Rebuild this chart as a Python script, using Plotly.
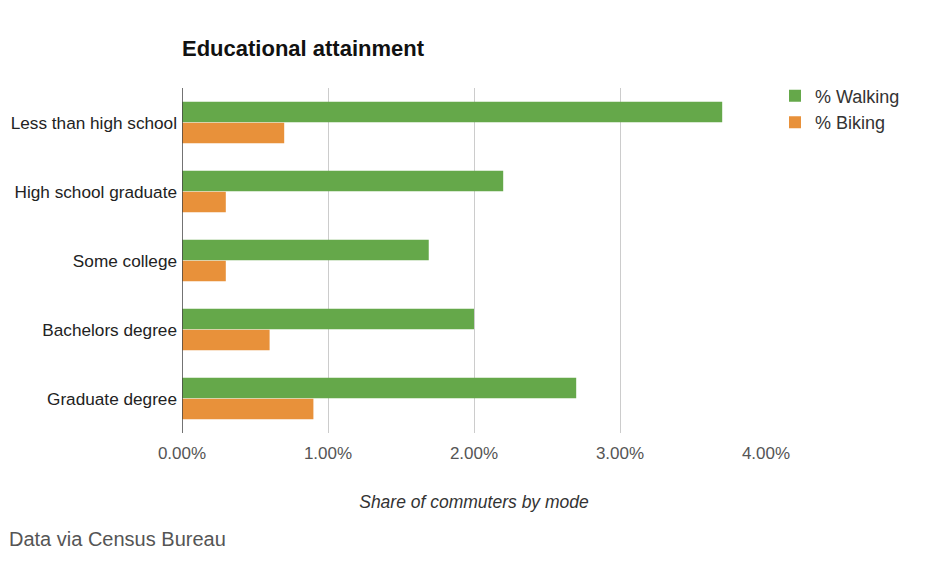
import plotly.graph_objects as go

categories = ["Less than high school", "High school graduate", "Some college",
              "Bachelors degree", "Graduate degree"]
walking = [3.70, 2.20, 1.69, 2.00, 2.70]
biking = [0.70, 0.30, 0.30, 0.60, 0.90]
tick_vals = [0, 1, 2, 3, 4]
tick_text = ["0.00%", "1.00%", "2.00%", "3.00%", "4.00%"]

GREEN = "#65a84a"
ORANGE = "#e8913a"

L, T, PW, PH = 174, 80, 584, 345
W, H = 932, 581

fig = go.Figure()
fig.add_trace(go.Bar(y=categories, x=walking, orientation="h", name="% Walking",
                     marker=dict(color=GREEN, line=dict(width=0))))
fig.add_trace(go.Bar(y=categories, x=biking, orientation="h", name="% Biking",
                     marker=dict(color=ORANGE, line=dict(width=0))))

fig.update_layout(
    width=W, height=H,
    paper_bgcolor="white", plot_bgcolor="white",
    margin=dict(l=L, r=W - L - PW, t=T, b=H - T - PH, autoexpand=False),
    barmode="group", bargap=0.39, bargroupgap=0.03,
    font=dict(family="Liberation Sans, Arial, sans-serif", color="#222"),
    title=dict(text="<b>Educational attainment</b>", x=174 / W, xanchor="left",
               y=1 - 40 / H, yanchor="middle",
               font=dict(size=22, color="#111")),
    legend=dict(x=1 + 9 / PW, y=1.03, xanchor="left", yanchor="top",
                font=dict(size=18, color="#333"), itemwidth=30,
                tracegroupgap=7, bgcolor="rgba(0,0,0,0)"),
    showlegend=True,
)
fig.update_xaxes(range=[0, 4.0], tickvals=tick_vals, ticktext=tick_text,
                 showgrid=True, gridcolor="#cccccc", gridwidth=1,
                 zeroline=False, showline=False, ticks="", automargin=False,
                 tickfont=dict(size=17, color="#555"), ticklabelstandoff=8,
                 title=dict(text="<i>Share of commuters by mode</i>",
                            font=dict(size=17.5, color="#333"), standoff=33))
fig.update_yaxes(autorange="reversed", showline=False, ticks="", automargin=False,
                 tickfont=dict(size=17.2, color="#222"), ticklabelstandoff=4,
                 showgrid=False)
fig.add_shape(type="line", xref="x", yref="paper", x0=0, x1=0, y0=0, y1=1,
              line=dict(color="#444", width=1.5))
fig.add_annotation(text="Data via Census Bureau", xref="paper", yref="paper",
                   x=-L / PW, y=-106 / PH, xanchor="left",
                   yanchor="middle", showarrow=False, borderpad=0,
                   font=dict(size=20, color="#555"))

fig.write_html("out.html")
